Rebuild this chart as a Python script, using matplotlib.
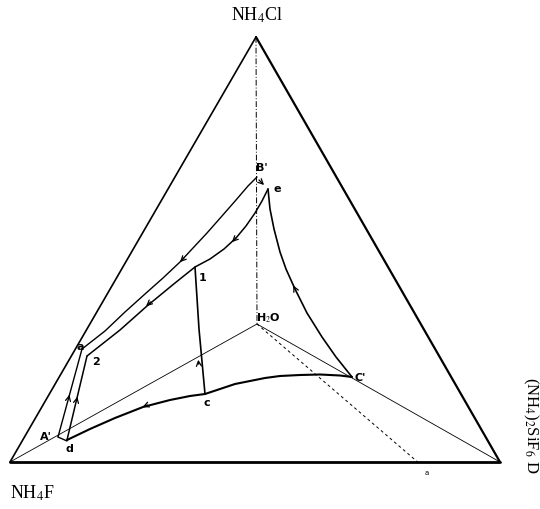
import matplotlib
matplotlib.use('Agg')
import matplotlib.pyplot as plt

plt.rcParams['mathtext.fontset'] = 'stix'

# vertices of the triangle (drawing coordinates, y downwards)
top = (256, 38)
left = (10, 463)
right = (500, 463)
h2o = (257, 325)

# curves
curve_Ba = [(257, 178), (248, 187), (236, 201), (222, 217), (207, 234),
            (193, 249), (180, 263), (163, 279), (145, 295), (125, 313),
            (105, 332), (82, 350)]
curve_e2 = [(268, 190), (262, 202), (255, 214), (246, 227), (236, 239),
            (224, 250), (210, 260), (195, 268), (175, 284), (147, 307),
            (120, 331), (87, 357)]
line_aA = [(82, 350), (58, 438)]
line_2d = [(87, 357), (67, 441)]
line_Ad = [(58, 438), (67, 442)]
curve_dc = [(67, 441), (90, 430), (115, 419), (143, 408), (170, 401),
            (190, 397), (205, 395)]
curve_cC = [(205, 395), (220, 390), (235, 385), (250, 382), (265, 379),
            (280, 377), (300, 376), (320, 375.5), (340, 376.5), (352, 378)]
curve_eC = [(268, 190), (270, 210), (274, 230), (280, 253), (286, 270),
            (295, 290), (307, 314), (322, 338), (336, 358), (352, 378)]
line_c1 = [(205, 395), (199, 330), (195, 268)]
dash_end = (420, 465)

# arrows: (tail, head)
arrows = [((186, 257), (178, 265)),
          ((238, 237), (230, 245)),
          ((153, 301), (144, 309)),
          ((68, 402), (70, 393)),
          ((76, 404), (78, 395)),
          ((150, 405), (140, 409)),
          ((199, 368), (198, 358)),
          ((296, 292), (292, 284)),
          ((257, 179), (266, 188))]

# point labels
labels = [("B'", (262, 168)), ("e", (277, 189)), ("1", (203, 278)),
          ("2", (96, 362)), ("a", (80, 347)), ("A'", (46, 437)),
          ("d", (69, 449)), ("c", (207, 403)), ("C'", (360, 378)),
          ("H$_2$O", (268, 318))]

fig = plt.figure(figsize=(5.4, 5.1), dpi=100)
ax = fig.add_axes([0, 0, 1, 1])
ax.set_xlim(0, 540)
ax.set_ylim(510, 0)
ax.axis('off')

def draw(pts, **kw):
    xs = [p[0] for p in pts]
    ys = [p[1] for p in pts]
    ax.plot(xs, ys, color='black', solid_capstyle='round',
            solid_joinstyle='round', **kw)

# triangle
draw([left, top], lw=1.2)
draw([top, right], lw=1.6)
draw([left, right], lw=2.0)

# construction lines from water
draw([top, h2o], lw=0.7, ls=(0, (6, 2, 1, 2)))
draw([h2o, left], lw=0.6)
draw([h2o, right], lw=0.6)
draw([h2o, dash_end], lw=0.7, ls=(0, (3, 3)))

# crystallisation paths
draw(curve_Ba, lw=1.0)
draw(curve_e2, lw=1.1)
draw(line_aA, lw=1.0)
draw(line_2d, lw=1.1)
draw(line_Ad, lw=1.0)
draw(curve_dc, lw=1.5)
draw(curve_cC, lw=1.5)
draw(curve_eC, lw=1.2)
draw(line_c1, lw=1.2)

for tail, head in arrows:
    ax.annotate('', xy=head, xytext=tail,
                arrowprops=dict(arrowstyle='->', color='black', lw=0.9,
                                mutation_scale=9))

for txt, (x, y) in labels:
    ax.text(x, y, txt, fontsize=8, fontweight='bold', ha='center',
            va='center', family='DejaVu Sans')

ax.text(427, 473, 'a', fontsize=5, ha='center', va='center')

serif = 'Liberation Serif'
ax.text(257, 15, 'NH$_4$Cl', fontsize=13, ha='center', va='center',
        family=serif)
ax.text(32, 493, 'NH$_4$F', fontsize=13, ha='center', va='center',
        family=serif)
ax.text(531, 425, '(NH$_4$)$_2$SiF$_6$ D', fontsize=12, ha='center',
        va='center', rotation=-90, family=serif)

fig.savefig('out.png', dpi=100)
